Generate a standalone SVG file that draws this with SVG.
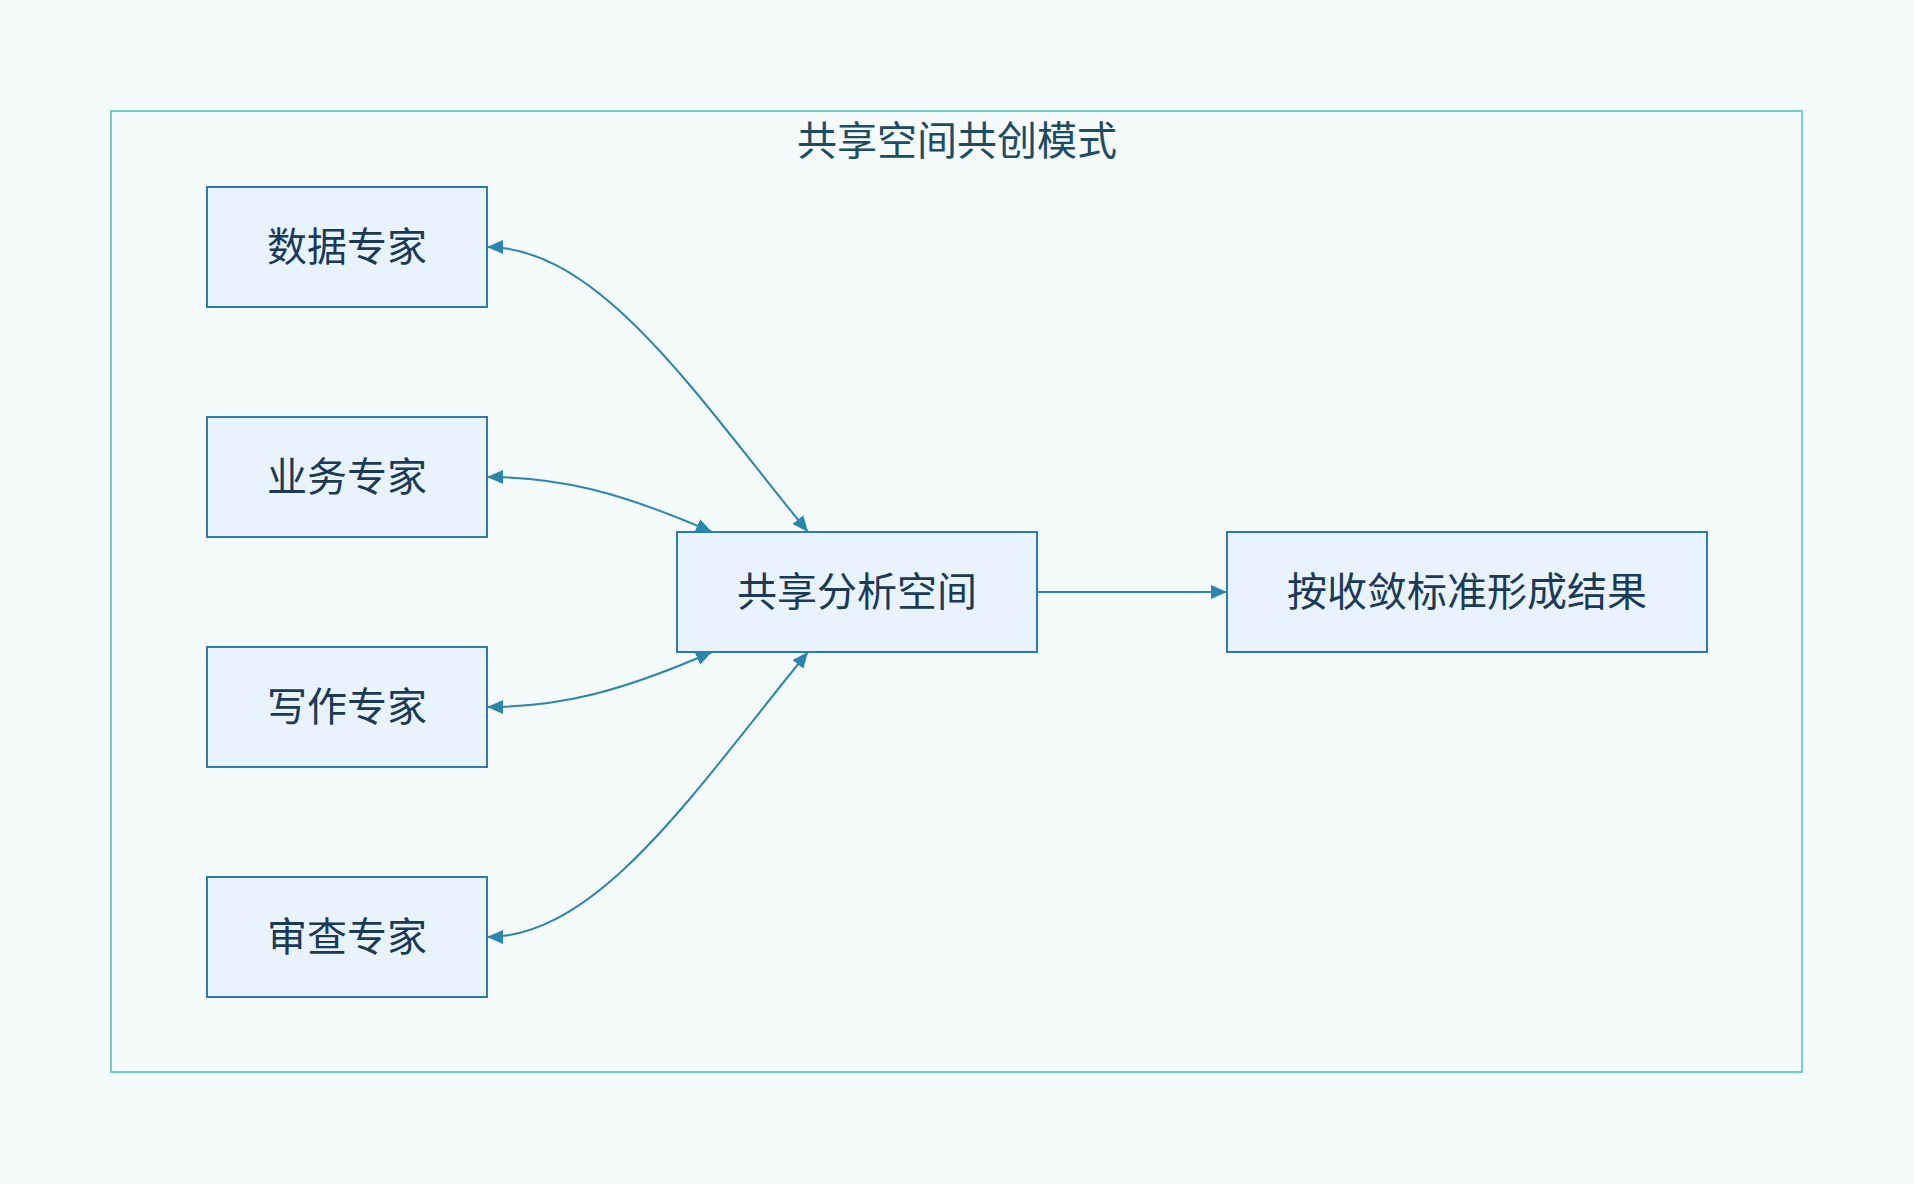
<svg xmlns="http://www.w3.org/2000/svg" width="1914" height="1184" viewBox="0 0 1914 1184">
<style>
.bg{fill:#f5fafb}
.frame{fill:#f5fafb;stroke:#6dcfc7;stroke-width:2}
.title{font-family:"Noto Sans CJK SC","Noto Sans",sans-serif;font-size:40px;fill:#1c4d63;text-anchor:middle;dominant-baseline:central}
.box{fill:#e8f3fe;stroke:#2a7cb3;stroke-width:2}
.label{font-family:"Noto Sans CJK SC","Noto Sans",sans-serif;font-size:40px;fill:#1a3a58;text-anchor:middle;dominant-baseline:central}
.edge{fill:none;stroke:#2a86ad;stroke-width:2}
</style>
<defs>
<marker id="arr" viewBox="0 0 16 14" markerWidth="16" markerHeight="14" refX="16" refY="7" orient="auto-start-reverse" markerUnits="userSpaceOnUse">
<path d="M0,0 L16,7 L0,14 z" fill="#2a86ad"/>
</marker>
</defs>
<rect class="bg" x="0" y="0" width="1914" height="1184"/>
<g id="group-frame">
<rect class="frame" x="111" y="111" width="1691" height="961"/>
<text class="title" x="957" y="138">共享空间共创模式</text>
</g>
<g id="connectors">
<path class="edge" d="M487,247 C600,247 698,398 808,532" marker-start="url(#arr)" marker-end="url(#arr)"/>
<path class="edge" d="M487,477 C560,477 620,492 712,532" marker-start="url(#arr)" marker-end="url(#arr)"/>
<path class="edge" d="M487,707 C560,707 620,692 712,652" marker-start="url(#arr)" marker-end="url(#arr)"/>
<path class="edge" d="M487,937 C600,937 698,786 808,652" marker-start="url(#arr)" marker-end="url(#arr)"/>
<path class="edge" d="M1037,592 L1227,592" marker-end="url(#arr)"/>
</g>
<g id="node-data">
<rect class="box" x="207" y="187" width="280" height="120"/>
<text class="label" x="347" y="244">数据专家</text>
</g>
<g id="node-business">
<rect class="box" x="207" y="417" width="280" height="120"/>
<text class="label" x="347" y="474">业务专家</text>
</g>
<g id="node-writing">
<rect class="box" x="207" y="647" width="280" height="120"/>
<text class="label" x="347" y="704">写作专家</text>
</g>
<g id="node-review">
<rect class="box" x="207" y="877" width="280" height="120"/>
<text class="label" x="347" y="934">审查专家</text>
</g>
<g id="node-shared">
<rect class="box" x="677" y="532" width="360" height="120"/>
<text class="label" x="857" y="589">共享分析空间</text>
</g>
<g id="node-result">
<rect class="box" x="1227" y="532" width="480" height="120"/>
<text class="label" x="1467" y="589">按收敛标准形成结果</text>
</g>
</svg>
